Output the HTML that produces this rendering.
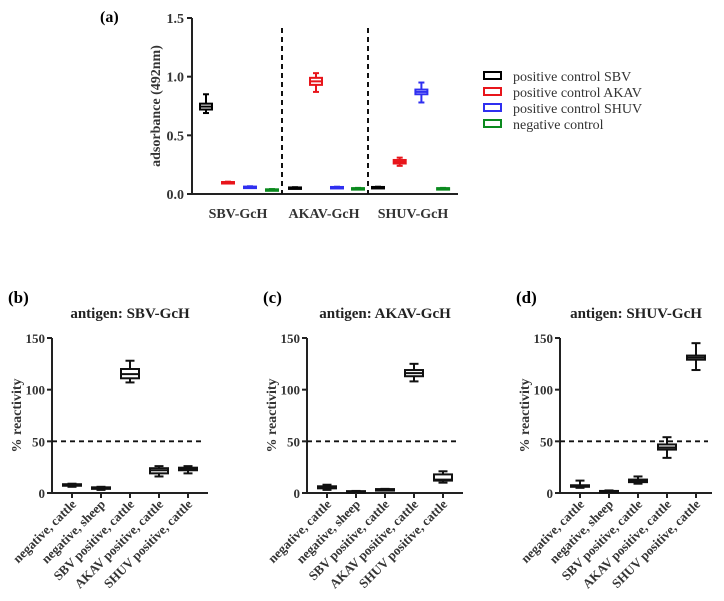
<!DOCTYPE html>
<html><head><meta charset="utf-8"><style>
html,body{margin:0;padding:0;background:#fff;}
svg{display:block;font-family:"Liberation Serif",serif;}
</style></head><body>
<svg id="fig" width="724" height="601" viewBox="0 0 724 601"></svg>
<script>
// Panel (a) data
const aCategories = ["SBV-GcH","AKAV-GcH","SHUV-GcH"];
const aSeries = ["positive control SBV","positive control AKAV","positive control SHUV","negative control"];
const aColors = ["#000","#e8151b","#2f2ff0","#0b8a1e"];
// [wmin,q1,med,q3,wmax] per group per series
const aSBV  = [[0.69,0.72,0.745,0.77,0.85],[0.095,0.098,0.10,0.102,0.105],[0.055,0.058,0.06,0.063,0.066],[0.035,0.037,0.038,0.04,0.042]];
const aAKAV = [[0.05,0.052,0.054,0.056,0.058],[0.87,0.93,0.96,0.99,1.03],[0.055,0.057,0.058,0.06,0.062],[0.045,0.047,0.048,0.05,0.052]];
const aSHUV = [[0.055,0.057,0.058,0.06,0.062],[0.24,0.26,0.275,0.29,0.31],[0.78,0.85,0.87,0.89,0.95],[0.045,0.047,0.048,0.05,0.052]];
const aTicks = [0,0.5,1.0,1.5];
const aTickLabels = ["0.0","0.5","1.0","1.5"];
// Panels b-d
const bcdCategories = ["negative, cattle","negative, sheep","SBV positive, cattle","AKAV positive, cattle","SHUV positive, cattle"];
const bData = [[6,7,8,8.5,9],[3,4,5,5.5,6],[107,111,115,120,128],[16,19,22,24,26],[19,22,23,24.5,26]];
const cData = [[3,4.5,5.5,6.5,8],[0.5,1,1.3,1.8,2],[2.5,3,3.3,3.8,4],[108,113,116,119,125],[10,12,13,18,21]];
const dData = [[5,6,7,7.5,12],[1,1.3,1.6,2,2.5],[9,10.5,11.5,13,16],[34,42,44,47,54],[119,129,131,133,145]];
const pTicks = [0,50,100,150];
const cutoff = [50];

const NS="http://www.w3.org/2000/svg";
const svg=document.getElementById('fig');
function el(tag,attrs,parent,text){const e=document.createElementNS(NS,tag);for(const k in attrs)e.setAttribute(k,attrs[k]);if(text!==undefined)e.textContent=text;(parent||svg).appendChild(e);return e;}
function boxplot(g,cx,hw,d,y,color,sw){
  const c=color;
  el('line',{x1:cx,x2:cx,y1:y(d[0]),y2:y(d[1]),stroke:c,'stroke-width':sw},g);
  el('line',{x1:cx,x2:cx,y1:y(d[3]),y2:y(d[4]),stroke:c,'stroke-width':sw},g);
  el('line',{x1:cx-hw*0.5,x2:cx+hw*0.5,y1:y(d[0]),y2:y(d[0]),stroke:c,'stroke-width':sw},g);
  el('line',{x1:cx-hw*0.5,x2:cx+hw*0.5,y1:y(d[4]),y2:y(d[4]),stroke:c,'stroke-width':sw},g);
  const top=y(d[3]),bot=y(d[1]);
  el('rect',{x:cx-hw,y:Math.min(top,bot),width:2*hw,height:Math.max(Math.abs(bot-top),1.5),fill:'#fff',stroke:c,'stroke-width':sw},g);
  el('line',{x1:cx-hw,x2:cx+hw,y1:y(d[2]),y2:y(d[2]),stroke:c,'stroke-width':sw},g);
}

// ---- Panel a ----
(function(){
  const g=el('g',{});
  
  
  const x0=192,x1=458,yTop=18,yBot=194;
  const y=v=>yBot-(v/1.5)*(yBot-yTop);
  const t=el('text',{x:100,y:22,'font-size':16,'font-weight':'bold'},g,'(a)');
  
  el('line',{x1:x0,x2:x0,y1:yTop,y2:yBot,stroke:'#222','stroke-width':2},g);
  el('line',{x1:x0,x2:x1,y1:yBot,y2:yBot,stroke:'#222','stroke-width':2},g);
  aTicks.forEach((v,i)=>{
    el('line',{x1:x0-5,x2:x0,y1:y(v),y2:y(v),stroke:'#222','stroke-width':2},g);
    const tl=el('text',{x:x0-8,y:y(v)+5,'font-size':14,'font-weight':'bold','text-anchor':'end',fill:'#333'},g,aTickLabels[i]);
    
  });
  const yt=el('text',{transform:`translate(160,${(yTop+yBot)/2}) rotate(-90)`,'font-size':14,'font-weight':'bold','text-anchor':'middle',fill:'#333'},g,'adsorbance (492nm)');
  
  [282,368].forEach(xx=>{
    const dl=el('line',{x1:xx,x2:xx,y1:28,y2:yBot,stroke:'#111','stroke-width':2,'stroke-dasharray':'5,4'},g);
    
  });
  const groups=[aSBV,aAKAV,aSHUV];
  const groupStart=[206,295,378], step=[22,21,21.7];
  groups.forEach((grp,gi)=>{
    grp.forEach((d,si)=>{
      const cx=groupStart[gi]+si*step[gi];
      const bg=el('g',{},g);
      
      
      boxplot(bg,cx,6,d,y,aColors[si],2);
    });
    const cl=el('text',{x:[238,324,413][gi],y:218,'font-size':14,'font-weight':'bold','text-anchor':'middle',fill:'#333'},g,aCategories[gi]);
    
  });
  aSeries.forEach((s,i)=>{
    const lg=el('g',{},g);
    
    
    const ly=72+i*16;
    el('rect',{x:484,y:ly,width:17,height:7,fill:'none',stroke:aColors[i],'stroke-width':2},lg);
    el('text',{x:513,y:ly+9,'font-size':14,fill:'#333'},lg,s);
  });
})();

// ---- Panels b,c,d ----
function panel(name,label,title,data,x0,x1){
  const g=el('g',{});
  
  
  const yTop=338,yBot=493;
  const y=v=>yBot-(v/150)*(yBot-yTop);
  const lb=el('text',{x:x0-44,y:303,'font-size':17,'font-weight':'bold'},g,label);
  
  const tt=el('text',{x:(x0+x1)/2,y:318,'font-size':15,'font-weight':'bold','text-anchor':'middle',fill:'#222'},g,title);
  
  el('line',{x1:x0,x2:x0,y1:yTop,y2:yBot,stroke:'#222','stroke-width':2},g);
  el('line',{x1:x0,x2:x1,y1:yBot,y2:yBot,stroke:'#222','stroke-width':2},g);
  pTicks.forEach(v=>{
    el('line',{x1:x0-5,x2:x0,y1:y(v),y2:y(v),stroke:'#222','stroke-width':2},g);
    const tl=el('text',{x:x0-7,y:y(v)+5,'font-size':13,'font-weight':'bold','text-anchor':'end',fill:'#333'},g,String(v));
    
  });
  const yt=el('text',{transform:`translate(${x0-31},${(yTop+yBot)/2}) rotate(-90)`,'font-size':14,'font-weight':'bold','text-anchor':'middle',fill:'#333'},g,'% reactivity');
  
  const cl=el('line',{x1:x0,x2:x1-4,y1:y(cutoff[0]),y2:y(cutoff[0]),stroke:'#111','stroke-width':1.8,'stroke-dasharray':'5,4'},g);
  
  data.forEach((d,i)=>{
    const cx=x0+20+i*29;
    const bg=el('g',{},g);
    
    
    boxplot(bg,cx,9,d,y,'#111',2);
    el('line',{x1:cx,x2:cx,y1:yBot,y2:yBot+5,stroke:'#222','stroke-width':2},g);
    const xl=el('text',{transform:`translate(${cx+5},${yBot+12}) rotate(-45)`,'font-size':13,'font-weight':'bold','text-anchor':'end',fill:'#333'},g,bcdCategories[i]);
    
  });
}
panel('b','(b)','antigen: SBV-GcH',bData,52,208);
panel('c','(c)','antigen: AKAV-GcH',cData,307,463);
panel('d','(d)','antigen: SHUV-GcH',dData,560,712);
</script>
</body></html>
